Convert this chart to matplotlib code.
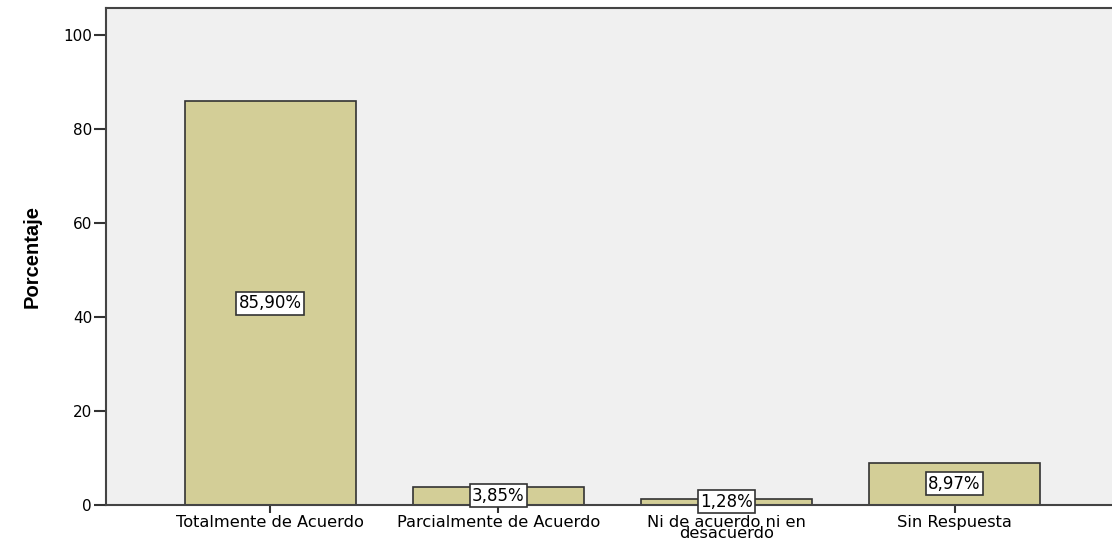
import matplotlib
matplotlib.use("Agg")
import matplotlib.pyplot as plt

categories = ["Totalmente de Acuerdo", "Parcialmente de Acuerdo",
              "Ni de acuerdo ni en\ndesacuerdo", "Sin Respuesta"]
values = [85.90, 3.85, 1.28, 8.97]
labels = ["85,90%", "3,85%", "1,28%", "8,97%"]
yticks = [0, 20, 40, 60, 80, 100]

plt.rcParams['font.family'] = ['DejaVu Sans']

fig = plt.figure(figsize=(11.12, 5.45), dpi=100)
ax = fig.add_axes([106/1112, 1 - 505/545, 1 - 106/1112 + 0.002, (505-8)/545])
ax.set_facecolor('#F0F0F0')

x = list(range(len(categories)))
ax.bar(x, values, width=0.75, color='#D3CE97', edgecolor='#333333', linewidth=1.2, zorder=2)

for xi, v, lab in zip(x, values, labels):
    ax.text(xi, v / 2, lab, ha='center', va='center', fontsize=12, zorder=3,
            bbox=dict(boxstyle='square,pad=0.15', facecolor='white', edgecolor='#333333', linewidth=1.2))

ax.set_xlim(-0.72, 3.70)
ax.set_ylim(0, 105.7)
ax.set_yticks(yticks)
ax.set_yticklabels([str(t) for t in yticks], fontsize=11)
ax.set_xticks(x)
ax.set_xticklabels(categories, fontsize=11.7, linespacing=0.72)
ax.tick_params(axis='y', direction='out', length=8.5, width=1.5, color='#333333', pad=1.5)
ax.tick_params(axis='x', direction='out', length=6, width=1.5, color='#333333', pad=1)

for s in ['left', 'bottom', 'top']:
    ax.spines[s].set_color('#444444')
    ax.spines[s].set_linewidth(1.5)
ax.spines['right'].set_visible(False)

fig.text(32/1112, 1 - 256/545, 'Porcentaje', rotation=90, ha='center', va='center',
         fontsize=14.5, fontweight='bold', family=['Liberation Sans', 'DejaVu Sans'])

fig.savefig('out.png', dpi=100)
